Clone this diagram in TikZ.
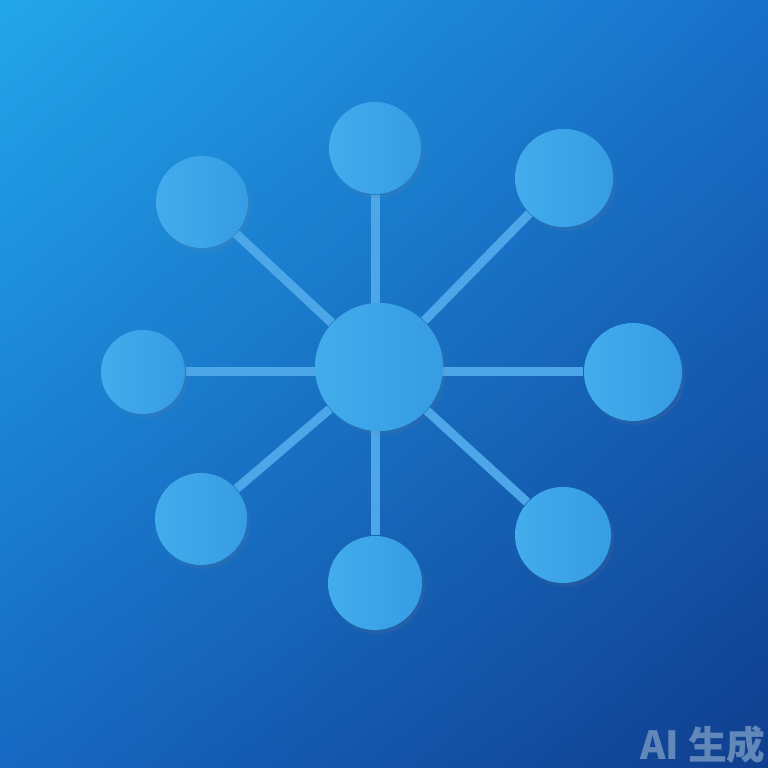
\documentclass[tikz,border=0pt]{standalone}
\usepackage{fontspec}
\newfontfamily\cjk{Noto Sans CJK SC}
\usetikzlibrary{shadows, shadings, backgrounds}
\definecolor{bgtl}{RGB}{34,166,234}
\definecolor{bgtr}{RGB}{24,112,202}
\definecolor{bgbl}{RGB}{22,104,194}
\definecolor{bgbr}{RGB}{16,62,142}
\definecolor{nodehi}{RGB}{66,172,236}
\definecolor{nodelo}{RGB}{54,156,228}
\definecolor{linkblue}{RGB}{76,166,232}
\definecolor{markgray}{RGB}{98,136,186}
\tikzset{
hub/.style={shape=circle, minimum size=1.28cm, inner sep=0, left color=nodehi, right color=nodelo, drop shadow={opacity=0.12, shadow xshift=0.03cm, shadow yshift=-0.04cm}}, leaf/.style={hub}, spoke/.style={draw=linkblue, line width=0.09cm}}
\begin{document}
\begin{tikzpicture}[x=0.01cm, y=-0.01cm]
\begin{scope}[on background layer]
\shade [upper left=bgtl, upper right=bgtr, lower left=bgbl, lower right=bgbr] (0,0) rectangle (768,768);
\end{scope}
\useasboundingbox (0,0) rectangle (768,768);
\node [hub] at (379,367) (hub) {};
% straight spokes: top, left, bottom, right
\foreach \px/\py/\d [count=\j, evaluate={\s=\d/100;}] in {375/148/92, 143/372/84, 375/583/94, 633/372/98}{
      \node [leaf, minimum size=\s cm] at (\px,\py) (leaf-\j) {};
      \begin{scope}[on background layer]
      \ifodd\j \draw [spoke] (leaf-\j) -- (leaf-\j |- hub); \else \draw [spoke] (leaf-\j) -- (leaf-\j -| hub); \fi
      \end{scope}
}
\foreach \px/\py/\d [count=\j from 5, evaluate={\s=\d/100;}] in {202/202/92, 564/178/98, 201/519/92, 563/535/96}{
      \node [leaf, minimum size=\s cm] at (\px,\py) (leaf-\j) {};
      \draw [spoke] (hub) -- (leaf-\j);
}
\node [text=markgray, font=\cjk\bfseries\fontsize{11}{11}\selectfont] at (703,745) (mark) {AI 生成};
\end{tikzpicture}
\end{document}
